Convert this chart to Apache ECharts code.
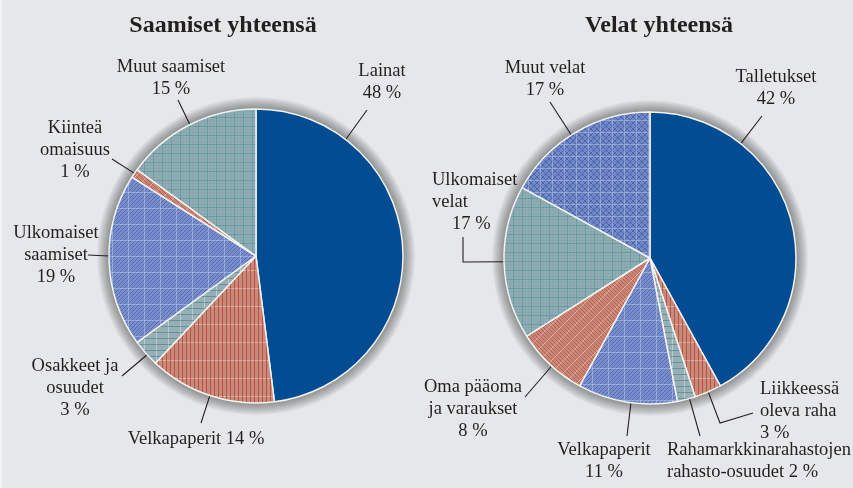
<!DOCTYPE html>
<html><head><meta charset="utf-8">
<script src="https://cdn.jsdelivr.net/npm/echarts@6/dist/echarts.min.js"></script>
<style>html,body{margin:0;padding:0;background:#e6e7e9}#c{width:853px;height:488px}</style>
</head><body><div id="c"></div>
<script>
// ---- data ----
const titles = ['Saamiset yhteensä', 'Velat yhteensä'];
const assetNames = ['Lainat', 'Velkapaperit', 'Osakkeet ja\nosuudet', 'Ulkomaiset\nsaamiset', 'Kiinteä\nomaisuus', 'Muut saamiset'];
const assetValues = [48, 14, 3, 19, 1, 15];
const liabNames = ['Talletukset', 'Liikkeessä\noleva raha', 'Rahamarkkinarahastojen\nrahasto-osuudet', 'Velkapaperit', 'Oma pääoma\nja varaukset', 'Ulkomaiset\nvelat', 'Muut velat'];
const liabValues = [42, 3, 2, 11, 8, 17, 17];

// ---- patterns ----
function tile(w, h, draw) {
  const c = document.createElement('canvas'); c.width = w; c.height = h;
  const g = c.getContext('2d'); draw(g, w, h);
  return { image: c, repeat: 'repeat' };
}
function seg(g, list, color, lw) {
  g.strokeStyle = color; g.lineWidth = lw || 1; g.beginPath();
  list.forEach(s => { g.moveTo(s[0], s[1]); g.lineTo(s[2], s[3]); }); g.stroke();
}
function diag(w, h, step, dir) {
  const out = [];
  for (let x = -h; x <= w + h; x += step) {
    if (dir > 0) out.push([x, h, x + h, 0]); else out.push([x, 0, x + h, h]);
  }
  return out;
}
const solidBlue = '#024c93';
const redVert = tile(16, 18, (g, w, h) => {
  g.fillStyle = '#c98a7a'; g.fillRect(0, 0, w, h);
  seg(g, [[0, 0.5, w, 0.5]], 'rgba(235,205,196,0.6)', 1);
  seg(g, [[2.5, 0, 2.5, h], [6.5, 0, 6.5, h], [10.5, 0, 10.5, h], [14.5, 0, 14.5, h]], 'rgba(170,45,30,0.6)', 1);
});
const tealGrid = tile(9, 9, (g, w, h) => {
  g.fillStyle = '#91adb3'; g.fillRect(0, 0, w, h);
  seg(g, [[3.5, 0, 3.5, h], [6.5, 0, 6.5, h], [0, 3.5, w, 3.5], [0, 6.5, w, 6.5]], 'rgba(110,160,168,0.25)', 1);
  seg(g, [[0.5, 0, 0.5, h], [0, 0.5, w, 0.5]], 'rgba(80,145,155,0.6)', 1);
});
const tealHoriz = tile(12, 6, (g, w, h) => {
  g.fillStyle = '#97afb4'; g.fillRect(0, 0, w, h);
  seg(g, [[0.5, 0, 0.5, h]], 'rgba(210,225,228,0.6)', 1);
  seg(g, [[0, 2.5, w, 2.5]], 'rgba(55,125,135,0.55)', 1);
});
const blueDiag = tile(16, 16, (g, w, h) => {
  g.fillStyle = '#7a8fca'; g.fillRect(0, 0, w, h);
  seg(g, diag(w, h, 4, 1), 'rgba(55,85,165,0.6)', 1);
  seg(g, [[0.5, 0, 0.5, h], [0, 0.5, w, 0.5]], 'rgba(200,210,240,0.45)', 1);
});
const blueCross = tile(12, 12, (g, w, h) => {
  g.fillStyle = '#7189c5'; g.fillRect(0, 0, w, h);
  seg(g, diag(w, h, 6, 1).concat(diag(w, h, 6, -1)), 'rgba(45,75,155,0.55)', 1);
  seg(g, [[0.5, 0, 0.5, h], [0, 0.5, w, 0.5]], 'rgba(205,215,242,0.4)', 1);
});
const redCross = tile(12, 12, (g, w, h) => {
  g.fillStyle = '#c98676'; g.fillRect(0, 0, w, h);
  seg(g, diag(w, h, 4, -1), 'rgba(160,60,45,0.45)', 1);
  seg(g, diag(w, h, 12, 1), 'rgba(238,208,198,0.55)', 1);
});
const assetFills = [solidBlue, redVert, tealHoriz, blueDiag, redCross, tealGrid];
const liabFills = [solidBlue, redVert, tealHoriz, blueDiag, redCross, tealGrid, blueCross];

// ---- layout (positions of labels / leader lines) ----
const geo = [{ c: [256, 256], r: 147 }, { c: [650, 258], r: 146 }];
const HALO_W = 12, HALO_A = 0.035;
const leftLayout = [
  { x: 382, y: 82, align: 'center', anchor: 37.6, end: [367, 110] },
  { x: 196, y: 439, align: 'center', anchor: 198.3, end: [201, 423], inline: true },
  { x: 75, y: 388, align: 'center', anchor: 227.8, end: [122, 376] },
  { x: 56, y: 255, align: 'center', anchor: 270, end: [88, 255] },
  { x: 75, y: 150, align: 'center', anchor: 304.2, end: [112, 159] },
  { x: 171, y: 78, align: 'center', anchor: 333.3, end: [178, 100] }
];
const rightLayout = [
  { x: 776, y: 88, align: 'center', anchor: 38.4, end: [762, 116] },
  { x: 760, y: 411, align: 'left', anchor: 156.5, mid: [720, 423], end: [753, 413] },
  { x: 667, y: 461, align: 'left', anchor: 164.3, end: [700, 436], inline: true },
  { x: 604, y: 461, align: 'center', anchor: 187.5, end: [627, 436] },
  { x: 473, y: 409, align: 'center', anchor: 222.3, end: [525, 397] },
  { x: 432, y: 202, align: 'left', anchor: 268.5, mid: [463, 262], end: [463, 237], pctPad: 20 },
  { x: 545, y: 79, align: 'center', anchor: 327.4, end: [550, 102] }
];
const layouts = [leftLayout, rightLayout];

const FONT = 'Liberation Serif';
const INK = '#231f20';
const FS = 18.5;

function edgePoint(gi, deg) {
  const a = deg * Math.PI / 180, G = geo[gi];
  return [G.c[0] + G.r * Math.sin(a), G.c[1] - G.r * Math.cos(a)];
}

function haloElements(gi) {
  const G = geo[gi], out = [];
  for (let d = HALO_W; d >= 1; d--) {
    out.push({
      type: 'circle', z: 0, silent: true,
      shape: { cx: G.c[0], cy: G.c[1], r: G.r + d },
      style: { fill: 'rgba(0,0,0,' + HALO_A + ')' }
    });
  }
  return out;
}

function pieSeries(gi, names, values, fills) {
  const L = layouts[gi];
  return {
    type: 'pie', z: 2, animation: false, silent: true,
    center: geo[gi].c, radius: geo[gi].r,
    startAngle: 90, clockwise: true, avoidLabelOverlap: false,
    itemStyle: { borderColor: '#f2f2f2', borderWidth: 1.5 },
    label: {
      show: true, position: 'outside', fontFamily: FONT, fontSize: FS, lineHeight: 22, color: INK,
      formatter: p => {
        const l = L[p.dataIndex];
        const pct = p.value + ' %';
        return p.name + (l.inline ? ' ' : '\n') + (l.pctPad ? '{p|' + pct + '}' : pct);
      },
      rich: { p: { fontFamily: FONT, fontSize: FS, lineHeight: 22, color: INK, padding: [0, 0, 0, 20] } }
    },
    labelLine: { show: true, length: 10, length2: 10, lineStyle: { color: INK, width: 1.1 } },
    labelLayout: params => {
      const l = L[params.dataIndex];
      const e = edgePoint(gi, l.anchor);
      return {
        x: l.x, y: l.y, align: l.align, verticalAlign: 'middle',
        labelLinePoints: [e, l.mid || l.end, l.end]
      };
    },
    data: names.map((n, i) => ({ name: n, value: values[i], itemStyle: { color: fills[i] } }))
  };
}

const chart = echarts.init(document.getElementById('c'), null, { renderer: 'canvas' });
chart.setOption({
  backgroundColor: '#e6e7e9',
  title: [
    { text: titles[0], left: 218, top: 9, textAlign: 'center', textStyle: { fontFamily: FONT, fontWeight: 'bold', fontSize: 24, color: INK } },
    { text: titles[1], left: 654, top: 9, textAlign: 'center', textStyle: { fontFamily: FONT, fontWeight: 'bold', fontSize: 24, color: INK } }
  ],
  graphic: {
    elements: [
      { type: 'rect', left: 0, top: 0, z: 0, shape: { width: 2, height: 488 }, style: { fill: '#f3f3f4' }, silent: true }
    ].concat(haloElements(0), haloElements(1))
  },
  series: [
    pieSeries(0, assetNames, assetValues, assetFills),
    pieSeries(1, liabNames, liabValues, liabFills)
  ]
});
</script></body></html>
